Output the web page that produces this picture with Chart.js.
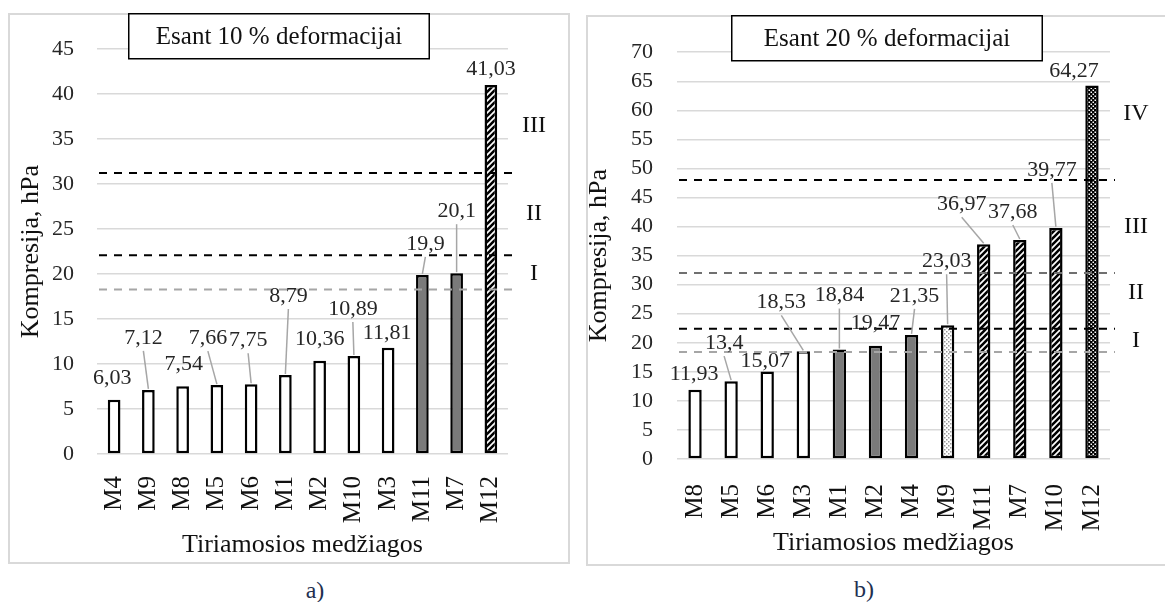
<!DOCTYPE html>
<html>
<head>
<meta charset="utf-8">
<script src="https://cdn.jsdelivr.net/npm/chart.js@4.4.1/dist/chart.umd.min.js"></script>
<style>
  body { margin: 0; background: #fff; width: 1165px; height: 602px; overflow: hidden; position: relative; }
  .panel { position: absolute; box-sizing: border-box; border: 2px solid #d9d9d9; }
  .wrap { position: absolute; }
  .cap { position: absolute; width: 60px; text-align: center; font: 24px/1 'Liberation Serif', serif; color: #1f3050; }
</style>
</head>
<body>
<div class="panel" style="left:8px;top:13px;width:562px;height:551px"></div>
<div class="panel" style="left:586px;top:15px;width:582px;height:551px"></div>
<div class="wrap" style="left:8px;top:13px;width:562px;height:551px"><canvas id="chartA"></canvas></div>
<div class="wrap" style="left:586px;top:15px;width:582px;height:551px"><canvas id="chartB"></canvas></div>
<div class="cap" style="left:285px;top:578px">a)</div>
<div class="cap" style="left:834px;top:577px">b)</div>
<script>
"use strict";

// 1: data, panel a) (10 % deformation)
const catsA = ['M4', 'M9', 'M8', 'M5', 'M6', 'M1', 'M2', 'M10', 'M3', 'M11', 'M7', 'M12'];
const valsA = [6.03, 7.12, 7.54, 7.66, 7.75, 8.79, 10.36, 10.89, 11.81, 19.9, 20.1, 41.03];
const limitsA = [31.25, 22.1, 18.3];
const zonesA = ['III', 'II', 'I'];
const zoneAtA = [36.5, 26.7, 20.0];

// data, panel b) (20 % deformation)
const catsB = ['M8', 'M5', 'M6', 'M3', 'M1', 'M2', 'M4', 'M9', 'M11', 'M7', 'M10', 'M12'];
const valsB = [11.93, 13.4, 15.07, 18.53, 18.84, 19.47, 21.35, 23.03, 36.97, 37.68, 39.77, 64.27];
const limitsB = [48.0, 32.0, 22.4, 18.4];
const zonesB = ['IV', 'III', 'II', 'I'];
const zoneAtB = [59.4, 40.0, 28.6, 20.4];

// 2: styles (fill kind per bar, line colours, label nudges)
const fillA = ['white', 'white', 'white', 'white', 'white', 'white', 'white', 'white', 'white', 'gray', 'gray', 'hatch'];
const fillB = ['white', 'white', 'white', 'white', 'gray', 'gray', 'gray', 'dots', 'hatch', 'hatch', 'hatch', 'dense'];
const limitColorsA = ['#000', '#000', '#a6a6a6'];
const limitColorsB = ['#000', '#707070', '#000', '#a6a6a6'];
const labelDxA = [-2, -5, 1, -9, -3, 3, 0, -1, -1, 3, 0, 0];
const labelDyA = [-22, -52, -22, -47, -44, -79, -22, -47, -15, -31, -62, -16];
const leaderA = [0, 1, 0, 1, 1, 1, 0, 1, 0, 1, 1, 0];
const labelDxB = [-1, -7, -2, -22, 0, 0, 3, -1, -22, -7, -4, -18];
const labelDyB = [-15, -38, -10, -49, -54, -23, -39, -64, -40, -28, -58, -14];
const leaderB = [0, 1, 0, 1, 1, 0, 1, 1, 1, 1, 1, 0];

const FONT = "'Liberation Serif', 'Times New Roman', serif";

// small tiles for the patterned bars
function tile(size, draw) {
  const c = document.createElement('canvas');
  c.width = size;
  c.height = size;
  const g = c.getContext('2d');
  draw(g);
  return g.createPattern(c, 'repeat');
}
const fills = {
  white: '#ffffff',
  gray: '#7a7a7a',
  hatch: tile(6, g => {
    g.fillStyle = '#fff';
    g.fillRect(0, 0, 6, 6);
    g.strokeStyle = '#000';
    g.lineWidth = 2.6;
    g.beginPath();
    g.moveTo(0, 6); g.lineTo(6, 0);
    g.moveTo(-3, 3); g.lineTo(3, -3);
    g.moveTo(3, 9); g.lineTo(9, 3);
    g.stroke();
  }),
  dots: tile(4, g => {
    g.fillStyle = '#fff';
    g.fillRect(0, 0, 4, 4);
    g.fillStyle = '#999';
    g.fillRect(0, 0, 1.5, 1.5);
    g.fillRect(2, 2, 1.5, 1.5);
  }),
  dense: tile(4, g => {
    g.fillStyle = '#000';
    g.fillRect(0, 0, 4, 4);
    g.fillStyle = '#fff';
    g.fillRect(0.5, 0.5, 1.5, 1.5);
    g.fillRect(2.5, 2.5, 1.5, 1.5);
  })
};

// dashed limit lines, zone numerals, value labels and the title box
const overlay = {
  id: 'overlay',
  afterDatasetsDraw(chart, args, o) {
    const ctx = chart.ctx;
    const area = chart.chartArea;
    const y = chart.scales.y;
    ctx.save();
    ctx.lineWidth = 2;
    ctx.setLineDash([8, 7]);
    o.limits.forEach((v, i) => {
      const py = y.getPixelForValue(v);
      ctx.strokeStyle = o.limitColors[i];
      ctx.beginPath();
      ctx.moveTo(area.left + 2, py);
      ctx.lineTo(area.right + 5, py);
      ctx.stroke();
    });
    ctx.setLineDash([]);

    ctx.fillStyle = '#111';
    ctx.font = '24px ' + FONT;
    ctx.textAlign = 'center';
    ctx.textBaseline = 'middle';
    o.zones.forEach((z, i) => {
      ctx.fillText(z, area.right + 26, y.getPixelForValue(o.zoneAt[i]));
    });

    const meta = chart.getDatasetMeta(0);
    const vals = chart.data.datasets[0].data;
    ctx.font = '22px ' + FONT;
    meta.data.forEach((bar, i) => {
      const lx = bar.x + o.dx[i];
      const ly = bar.y + o.dy[i];
      if (o.leader[i]) {
        ctx.strokeStyle = '#a6a6a6';
        ctx.lineWidth = 1.5;
        ctx.beginPath();
        ctx.moveTo(lx, ly + 13);
        ctx.lineTo(bar.x, bar.y - 1);
        ctx.stroke();
      }
      ctx.fillStyle = '#262626';
      ctx.fillText(String(vals[i]).replace('.', ','), lx, ly);
    });
    ctx.restore();
  },
  afterDraw(chart, args, o) {
    const ctx = chart.ctx;
    const x0 = chart.chartArea.left + o.boxLeft;
    ctx.save();
    ctx.fillStyle = '#fff';
    ctx.fillRect(x0, 0, o.boxWidth, 46);
    ctx.strokeStyle = '#000';
    ctx.lineWidth = 1.5;
    ctx.strokeRect(x0 + 0.75, 0.75, o.boxWidth - 1.5, 45);
    ctx.fillStyle = '#111';
    ctx.font = '25px ' + FONT;
    ctx.textAlign = 'center';
    ctx.textBaseline = 'middle';
    ctx.fillText(o.title, x0 + o.boxWidth / 2, 24);
    ctx.restore();
  }
};

// 3: create one panel
function makeChart(id, p) {
  return new Chart(document.getElementById(id), {
    type: 'bar',
    data: {
      labels: p.cats,
      datasets: [{
        data: p.vals,
        backgroundColor: p.fill.map(f => fills[f]),
        borderColor: '#000',
        borderWidth: 2.5,
        borderSkipped: false,
        categoryPercentage: 1,
        barPercentage: 0.37
      }]
    },
    plugins: [overlay],
    options: {
      responsive: true,
      maintainAspectRatio: false,
      animation: false,
      devicePixelRatio: 1,
      layout: { padding: { top: p.padTop, right: p.padRight, left: 0, bottom: 0 } },
      plugins: {
        legend: { display: false },
        tooltip: { enabled: false },
        overlay: {
          limits: p.limits, limitColors: p.limitColors,
          zones: p.zones, zoneAt: p.zoneAt,
          dx: p.dx, dy: p.dy, leader: p.leader,
          title: p.title, boxLeft: p.boxLeft, boxWidth: p.boxWidth
        }
      },
      scales: {
        x: {
          grid: { display: false },
          border: { display: false },
          ticks: {
            autoSkip: false, minRotation: 90, maxRotation: 90,
            padding: p.catPad, color: '#111', font: { family: FONT, size: 25 }
          },
          title: {
            display: true, text: 'Tiriamosios medžiagos', color: '#111',
            font: { family: FONT, size: 26, lineHeight: 1 },
            padding: { top: 0, bottom: p.xTitlePad }
          },
          afterFit: s => { s.height = p.xHeight; }
        },
        y: {
          min: 0, max: p.max,
          grid: { color: '#d9d9d9', lineWidth: 1.5, drawTicks: false },
          border: { display: false },
          ticks: {
            stepSize: 5, autoSkip: false, padding: p.tickPad,
            color: '#262626', font: { family: FONT, size: 22 }
          },
          title: {
            display: true, text: 'Kompresija, hPa', color: '#111',
            font: { family: FONT, size: 26, lineHeight: 1 },
            padding: { top: p.yTitlePad, bottom: 0 }
          },
          afterFit: s => { s.width = p.yWidth; }
        }
      }
    }
  });
}

makeChart('chartA', {
  cats: catsA, vals: valsA, fill: fillA, max: 45,
  limits: limitsA, limitColors: limitColorsA, zones: zonesA, zoneAt: zoneAtA,
  dx: labelDxA, dy: labelDyA, leader: leaderA,
  title: 'Esant 10 % deformacijai', boxLeft: 31, boxWidth: 302,
  padTop: 24, padRight: 62, yWidth: 89, xHeight: 110,
  tickPad: 23, catPad: 14, xTitlePad: 6, yTitlePad: 10
});

makeChart('chartB', {
  cats: catsB, vals: valsB, fill: fillB, max: 70,
  limits: limitsB, limitColors: limitColorsB, zones: zonesB, zoneAt: zoneAtB,
  dx: labelDxB, dy: labelDyB, leader: leaderB,
  title: 'Esant 20 % deformacijai', boxLeft: 54, boxWidth: 312,
  padTop: 25, padRight: 58, yWidth: 91, xHeight: 107,
  tickPad: 24, catPad: 17, xTitlePad: 10, yTitlePad: 0
});
</script>
</body>
</html>
